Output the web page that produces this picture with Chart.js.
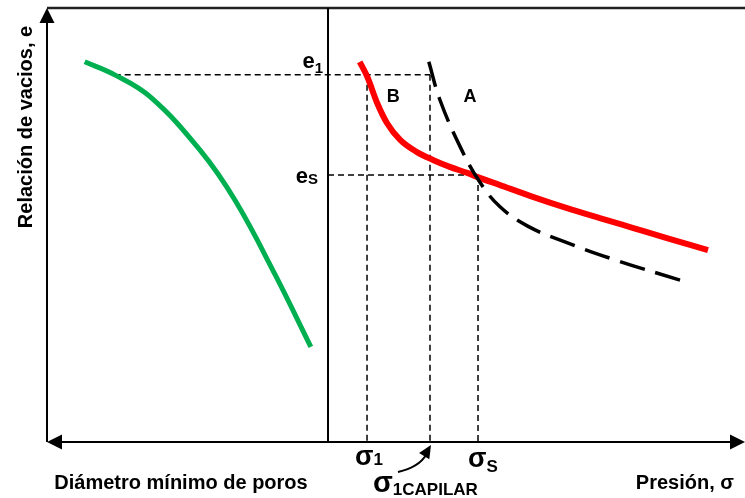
<!DOCTYPE html>
<html>
<head>
<meta charset="utf-8">
<script src="https://cdn.jsdelivr.net/npm/chart.js@4.4.1/dist/chart.umd.min.js"></script>
<style>
  body { margin: 0; background: #fff; }
</style>
</head>
<body>
<canvas id="myChart" width="745" height="498"></canvas>
<script>
// diagram units: x 0..100 left to right, y 0..100 bottom to top
const poreX = [5.4, 9.7, 14.8, 21.9, 26.9, 32.7, 37.8];
const poreY = [87.6, 84.6, 79.5, 67.3, 55.8, 38.5, 21.9];

const curveBX = [44.8, 45.9, 47.3, 48.7, 50.6, 53.0, 55.3, 57.7, 60.2, 61.6, 64.9, 69.6, 74.5, 79.2, 84.0, 88.8, 94.7];
const curveBY = [87.6, 84.1, 78.1, 73.5, 69.6, 66.8, 65.0, 63.4, 62.0, 61.1, 59.2, 56.5, 53.9, 51.6, 49.3, 47.0, 44.2];

const curveAX = [54.7, 56.3, 59.2, 62.0, 64.9, 68.8, 74.2, 81.5, 91.1];
const curveAY = [87.6, 78.8, 68.0, 59.9, 54.2, 49.8, 46.1, 41.9, 37.1];

const splitX = 40.26;                    // divider between the two plots
const sigmaTicks = [45.85, 54.87, 61.75]; // σ1, σ1CAPILAR, σS
const sigmaSubs = ['1', '1CAPILAR', 'S'];
const eTicks = [84.6, 61.5];              // e1, eS
const eSubs = ['1', 'S'];

const toPoints = (xs, ys) => xs.map((v, i) => ({ x: v, y: ys[i] }));

const guide = pts => ({
    data: pts,
    borderColor: '#000',
    borderWidth: 1.5,
    borderDash: [6, 4],
    pointRadius: 0,
    showLine: true,
    order: 5
});

const font = (size) => 'bold ' + size + 'px "Liberation Sans", Arial, sans-serif';

function subText(ctx, main, sub, left, base, mainSize, subSize, subDrop) {
    ctx.font = font(mainSize);
    ctx.fillText(main, left, base);
    const w = ctx.measureText(main).width;
    ctx.font = font(subSize);
    ctx.fillText(sub, left + w, base + subDrop);
    return w + ctx.measureText(sub).width;
}

function arrowHead(ctx, tx, ty, ang, len, half) {
    ctx.beginPath();
    ctx.moveTo(tx, ty);
    ctx.lineTo(tx - len * Math.cos(ang) + half * Math.sin(ang), ty - len * Math.sin(ang) - half * Math.cos(ang));
    ctx.lineTo(tx - len * Math.cos(ang) - half * Math.sin(ang), ty - len * Math.sin(ang) + half * Math.cos(ang));
    ctx.closePath();
    ctx.fill();
}

const frame = {
    id: 'frame',
    beforeDatasetsDraw(chart) {
        const { ctx, scales: { x, y } } = chart;
        const px = v => x.getPixelForValue(v);
        const py = v => y.getPixelForValue(v);
        ctx.save();
        ctx.fillStyle = '#000';
        // top border
        ctx.strokeStyle = '#222';
        ctx.lineWidth = 2.5;
        ctx.beginPath();
        ctx.moveTo(px(0), py(100));
        ctx.lineTo(px(100), py(100));
        ctx.stroke();
        ctx.strokeStyle = '#000';
        ctx.lineWidth = 2;
        ctx.beginPath();
        // left axis
        ctx.moveTo(px(0), py(0));
        ctx.lineTo(px(0), py(100) + 6);
        // bottom axis
        ctx.moveTo(px(0) + 6, py(0));
        ctx.lineTo(px(100) - 6, py(0));
        // divider
        ctx.moveTo(px(splitX), py(0));
        ctx.lineTo(px(splitX), py(100));
        ctx.stroke();
        arrowHead(ctx, px(0), py(100), -Math.PI / 2, 15, 7.5);
        arrowHead(ctx, px(0), py(0), Math.PI, 15, 7.5);
        arrowHead(ctx, px(100), py(0), 0, 15, 7.5);
        ctx.restore();
    },
    afterDraw(chart) {
        const { ctx, scales: { x, y } } = chart;
        const px = v => x.getPixelForValue(v);
        const py = v => y.getPixelForValue(v);
        ctx.save();
        ctx.fillStyle = '#000';
        ctx.textBaseline = 'alphabetic';
        ctx.textAlign = 'left';

        // e labels, left of the divider
        ctx.font = font(22);
        const ew = ctx.measureText('e').width;
        ctx.font = font(15);
        subText(ctx, 'e', eSubs[0], px(splitX) - 5 - ew - ctx.measureText(eSubs[0]).width, py(eTicks[0]) - 7, 22, 15, 5);
        ctx.font = font(15);
        const sw = ctx.measureText(eSubs[1]).width;
        subText(ctx, 'e', eSubs[1], px(splitX) - 10 - ew - sw, py(eTicks[1]) + 8, 22, 15, 1);

        // sigma labels under the axis
        subText(ctx, 'σ', sigmaSubs[0], px(sigmaTicks[0]) - 12, py(0) + 23, 27, 17, 0);
        subText(ctx, 'σ', sigmaSubs[2], px(sigmaTicks[2]) - 10, py(0) + 25, 27, 17, 5);
        subText(ctx, 'σ', sigmaSubs[1], px(sigmaTicks[1]) - 57, py(0) + 50, 29, 17, 3);

        // curved pointer to σ1CAPILAR
        const tipX = px(sigmaTicks[1]) + 1, tipY = py(0) + 3;
        ctx.strokeStyle = '#000';
        ctx.lineWidth = 2;
        ctx.beginPath();
        ctx.moveTo(tipX - 33, tipY + 27);
        ctx.quadraticCurveTo(tipX - 12, tipY + 22, tipX - 5, tipY + 10);
        ctx.stroke();
        arrowHead(ctx, tipX, tipY, -Math.PI / 2 + 0.55, 13, 6);

        // curve names
        ctx.font = font(18);
        ctx.textAlign = 'center';
        ctx.textBaseline = 'middle';
        ctx.fillText('B', px(49.6), py(79.5));
        ctx.fillText('A', px(60.6), py(79.5));

        // axis titles
        ctx.font = font(20);
        ctx.textBaseline = 'alphabetic';
        ctx.fillText('Diámetro mínimo de poros', 181, 489);
        ctx.textAlign = 'right';
        ctx.fillText('Presión, σ', 734, 489);
        ctx.translate(32, 127);
        ctx.rotate(-Math.PI / 2);
        ctx.textAlign = 'center';
        ctx.fillText('Relación de vacios, e', 0, 0);
        ctx.restore();
    }
};

const ctx = document.getElementById('myChart').getContext('2d');
const myChart = new Chart(ctx, {
    type: 'scatter',
    data: {
        datasets: [
            {
                data: toPoints(curveAX, curveAY),
                borderColor: '#000',
                borderWidth: 3.5,
                borderDash: [26, 11],
                tension: 0.4,
                pointRadius: 0,
                showLine: true,
                order: 1
            },
            {
                data: toPoints(curveBX, curveBY),
                borderColor: '#ff0000',
                borderWidth: 6,
                cubicInterpolationMode: 'monotone',
                pointRadius: 0,
                showLine: true,
                order: 2
            },
            {
                data: toPoints(poreX, poreY),
                borderColor: '#00b050',
                borderWidth: 5,
                tension: 0.4,
                pointRadius: 0,
                showLine: true,
                order: 3
            },
            guide([{ x: poreX[1], y: eTicks[0] }, { x: sigmaTicks[1], y: eTicks[0] }]),
            guide([{ x: sigmaTicks[0], y: eTicks[0] }, { x: sigmaTicks[0], y: 0 }]),
            guide([{ x: sigmaTicks[1], y: eTicks[0] }, { x: sigmaTicks[1], y: 0 }]),
            guide([{ x: splitX, y: eTicks[1] }, { x: sigmaTicks[2], y: eTicks[1] }]),
            guide([{ x: sigmaTicks[2], y: eTicks[1] }, { x: sigmaTicks[2], y: 0 }])
        ]
    },
    options: {
        responsive: false,
        animation: false,
        devicePixelRatio: 1,
        layout: { padding: { left: 47, right: 0, top: 8, bottom: 56 } },
        plugins: { legend: { display: false }, tooltip: { enabled: false } },
        scales: {
            x: { type: 'linear', min: 0, max: 100, display: false },
            y: { type: 'linear', min: 0, max: 100, display: false }
        }
    },
    plugins: [frame]
});
</script>
</body>
</html>
